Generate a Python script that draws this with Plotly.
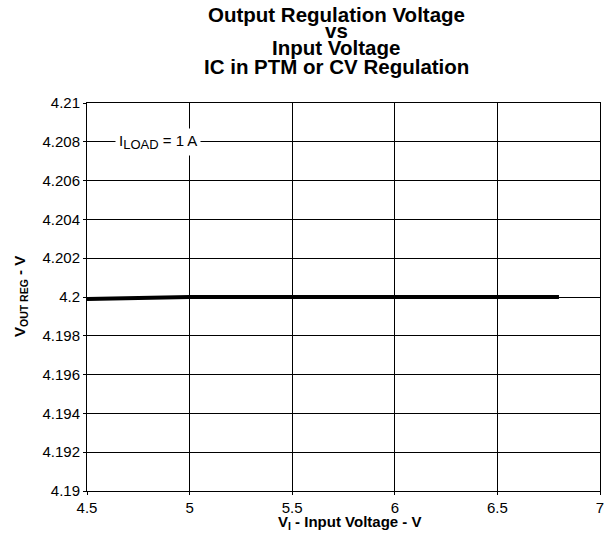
import plotly.graph_objects as go

vin = [4.5, 5.0, 5.5, 6.0, 6.5, 6.8]
vout = [4.1999, 4.2, 4.2, 4.2, 4.2, 4.2]
y_ticks = [4.19, 4.192, 4.194, 4.196, 4.198, 4.2, 4.202, 4.204, 4.206, 4.208, 4.21]
y_labels = ["4.19", "4.192", "4.194", "4.196", "4.198", "4.2", "4.202", "4.204", "4.206", "4.208", "4.21"]
x_ticks = [4.5, 5, 5.5, 6, 6.5, 7]
x_labels = ["4.5", "5", "5.5", "6", "6.5", "7"]
title_lines = ["Output Regulation Voltage", "vs", "Input Voltage", "IC in PTM or CV Regulation"]

font = "Liberation Sans"
L, R, T, B = 87, 9, 103, 49
W, H = 609, 540
PH = H - T - B
PW = W - L - R


def py2paper(py):
    return 1 + (T - py) / PH


def px2paper(px):
    return (px - L) / PW


fig = go.Figure()
fig.add_trace(go.Scatter(x=vin, y=vout, mode="lines",
                         line=dict(color="black", width=4), showlegend=False))

fig.update_layout(
    width=W, height=H,
    margin=dict(l=L, r=R, t=T, b=B, autoexpand=False),
    paper_bgcolor="white", plot_bgcolor="white",
    font=dict(family=font, color="black", size=15),
)
fig.update_xaxes(range=[4.5, 7], tickvals=x_ticks, ticktext=x_labels,
                 showgrid=True, gridcolor="black", gridwidth=1,
                 showline=True, linecolor="black", linewidth=1, mirror=True,
                 zeroline=False, ticks="outside", ticklen=3, tickcolor="black",
                 ticklabeloverflow="allow", automargin=False,
                 tickfont=dict(size=15, color="black", family=font))
fig.update_yaxes(range=[4.19, 4.21], tickvals=y_ticks, ticktext=y_labels,
                 showgrid=True, gridcolor="black", gridwidth=1,
                 showline=True, linecolor="black", linewidth=1, mirror=True,
                 zeroline=False, ticks="outside", ticklen=3, tickcolor="black",
                 automargin=False,
                 tickfont=dict(size=15, color="black", family=font))

centers = [14.5, 30.5, 47.0, 66.5]
for txt, cy in zip(title_lines, centers):
    fig.add_annotation(xref="paper", yref="paper", x=px2paper(336), y=py2paper(cy),
                       xanchor="center", yanchor="middle", showarrow=False,
                       text="<b>" + txt + "</b>",
                       font=dict(family=font, size=20.5, color="black"))

fig.add_annotation(xref="paper", yref="paper", x=px2paper(349), y=py2paper(522),
                   xanchor="center", yanchor="middle", showarrow=False,
                   text="<b>V<sub>I</sub> - Input Voltage - V</b>",
                   font=dict(family=font, size=15, color="black"))
fig.add_annotation(xref="paper", yref="paper", x=px2paper(20), y=py2paper(297),
                   xanchor="center", yanchor="middle", showarrow=False, textangle=-90,
                   text="<b>V<sub>OUT REG</sub> - V</b>",
                   font=dict(family=font, size=15, color="black"))

fig.add_annotation(x=4.846, y=4.208,
                   text='I<sub><span style="font-size:13px">LOAD</span></sub> = 1 A',
                   showarrow=False,
                   bgcolor="white", font=dict(size=15, family=font, color="black"),
                   borderpad=3)

fig.write_html("out.html", config={"displayModeBar": False},
               post_script="document.body.style.margin='0px';")
